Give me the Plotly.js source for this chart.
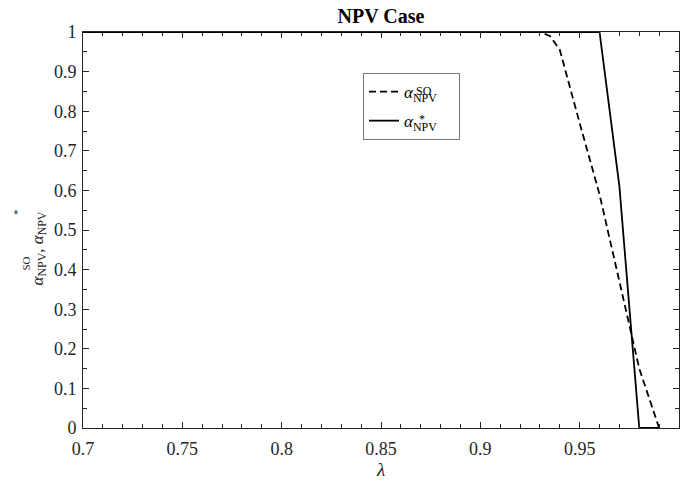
<!DOCTYPE html>
<html>
<head>
<meta charset="utf-8">
<script src="https://cdn.plot.ly/plotly-3.0.1.min.js"></script>
<style>html,body{margin:0;padding:0;background:#fff;}#chart{width:680px;height:484px;}</style>
</head>
<body>
<div id="chart"></div>
<script>
// lambda values and alpha values
var lambdaSO = [0.70,0.71,0.72,0.73,0.74,0.75,0.76,0.77,0.78,0.79,0.80,0.81,0.82,0.83,0.84,0.85,0.86,0.87,0.88,0.89,0.90,0.91,0.92,0.93,0.935,0.94,0.95,0.96,0.97,0.98,0.99];
var alphaSO  = [1,1,1,1,1,1,1,1,1,1,1,1,1,1,1,1,1,1,1,1,1,1,1,1,0.99,0.955,0.77,0.59,0.37,0.15,0];
var lambdaStar = [0.70,0.71,0.72,0.73,0.74,0.75,0.76,0.77,0.78,0.79,0.80,0.81,0.82,0.83,0.84,0.85,0.86,0.87,0.88,0.89,0.90,0.91,0.92,0.93,0.94,0.95,0.96,0.97,0.98,0.99];
var alphaStar  = [1,1,1,1,1,1,1,1,1,1,1,1,1,1,1,1,1,1,1,1,1,1,1,1,1,1,1,0.61,0,0];
var xTicks = [0.7,0.75,0.8,0.85,0.9,0.95,1];
var xTickText = ['0.7','0.75','0.8','0.85','0.9','0.95','1'];
var yTicks = [0,0.1,0.2,0.3,0.4,0.5,0.6,0.7,0.8,0.9,1];
var yTickText = ['0','0.1','0.2','0.3','0.4','0.5','0.6','0.7','0.8','0.9','1'];

var FONT = 'Liberation Serif, Times New Roman, serif';
var axisCol = '#262626';
var NB = '\u00A0';

var traces = [
  {x: lambdaSO, y: alphaSO, mode: 'lines', legendgroup: 'so',
   name: '<i>α</i><sub>NPV</sub>' + NB + NB + NB + NB,
   line: {color: '#000', width: 1.8, dash: '7px,4px'}},
  {x: lambdaStar, y: alphaStar, mode: 'lines', legendgroup: 'star',
   name: '<i>α</i><sub>NPV</sub>' + NB + NB + NB + NB,
   line: {color: '#000', width: 1.8}}
];

var axCommon = {
  showline: true, linecolor: axisCol, linewidth: 1, mirror: 'ticks',
  ticks: 'inside', ticklen: 6, tickcolor: axisCol, tickwidth: 1,
  showgrid: false, zeroline: false,
  tickfont: {family: FONT, size: 18, color: '#262626'}
};

function px2x(p) { return (p - 83) / 596; }
function px2y(p) { return (428 - p) / 396; }

var layout = {
  width: 680, height: 484,
  paper_bgcolor: '#fff', plot_bgcolor: '#fff',
  margin: {l: 83, r: 1, t: 32, b: 56},
  font: {family: FONT, color: '#000'},
  title: {text: '<b>NPV Case</b>', font: {family: FONT, size: 20, color: '#000'},
          xref: 'paper', x: 0.5, xanchor: 'center',
          yref: 'container', y: 0.966, yanchor: 'middle'},
  xaxis: Object.assign({}, axCommon, {
    range: [0.7, 1], tickvals: xTicks, ticktext: xTickText, ticklabelstandoff: 4,
    minor: {dtick: 0.01, ticks: 'inside', ticklen: 4, tickcolor: axisCol, tickwidth: 1},
    title: {text: '<i>λ</i>', font: {family: FONT, size: 19, color: '#262626'}, standoff: 3}
  }),
  yaxis: Object.assign({}, axCommon, {
    range: [0, 1], tickvals: yTicks, ticktext: yTickText, ticklabelstandoff: 2,
    minor: {dtick: 0.05, ticks: 'inside', ticklen: 4, tickcolor: axisCol, tickwidth: 1},
    title: {text: ''}
  }),
  showlegend: true,
  legend: {x: px2x(363), y: px2y(73), xanchor: 'left', yanchor: 'top',
           traceorder: 'grouped', tracegroupgap: 4,
           bgcolor: '#fff', bordercolor: '#777', borderwidth: 1,
           font: {family: FONT, size: 17, color: '#000'}},
  annotations: [
    // y-axis title (main line) and its stacked superscripts
    {text: '<i>α</i><sub>NPV</sub>, <i>α</i><sub>NPV</sub>', textangle: -90,
     xref: 'paper', yref: 'paper', x: px2x(25), y: px2y(248.5), showarrow: false,
     font: {family: FONT, size: 17, color: '#262626'}},
    {text: 'SO', textangle: -90, xref: 'paper', yref: 'paper', x: px2x(17), y: px2y(263.5),
     showarrow: false, font: {family: FONT, size: 11, color: '#262626'}},
    {text: '*', textangle: -90, xref: 'paper', yref: 'paper', x: px2x(9), y: px2y(212),
     showarrow: false, font: {family: FONT, size: 11, color: '#262626'}},
    // legend superscripts
    {text: 'SO', xref: 'paper', yref: 'paper', x: px2x(423.5), y: px2y(82),
     showarrow: false, font: {family: FONT, size: 12, color: '#000'}},
    {text: '*', xref: 'paper', yref: 'paper', x: px2x(421.7), y: px2y(110),
     showarrow: false, font: {family: FONT, size: 12, color: '#000'}}
  ]
};

Plotly.newPlot('chart', traces, layout, {displayModeBar: false, staticPlot: true});
</script>
</body>
</html>
